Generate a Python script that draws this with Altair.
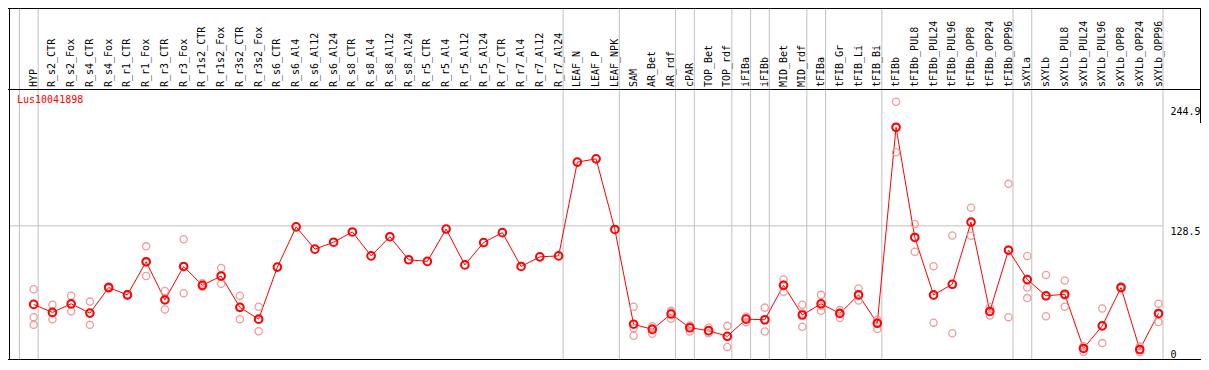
import altair as alt
import pandas as pd

categories = [
    "HYP", "R_s2_CTR", "R_s2_Fox", "R_s4_CTR", "R_s4_Fox", "R_r1_CTR", "R_r1_Fox",
    "R_r3_CTR", "R_r3_Fox", "R_r1s2_CTR", "R_r1s2_Fox", "R_r3s2_CTR", "R_r3s2_Fox",
    "R_s6_CTR", "R_s6_Al4", "R_s6_Al12", "R_s6_Al24", "R_s8_CTR", "R_s8_Al4",
    "R_s8_Al12", "R_s8_Al24", "R_r5_CTR", "R_r5_Al4", "R_r5_Al12", "R_r5_Al24",
    "R_r7_CTR", "R_r7_Al4", "R_r7_Al12", "R_r7_Al24", "LEAF_N", "LEAF_P", "LEAF_NPK",
    "SAM", "AR_Bet", "AR_rdf", "cPAR", "TOP_Bet", "TOP_rdf", "iFIBa", "iFIBb",
    "MID_Bet", "MID_rdf", "tFIBa", "tFIB_Gr", "tFIB_Li", "tFIB_Bi", "tFIBb",
    "tFIBb_PUL8", "tFIBb_PUL24", "tFIBb_PUL96", "tFIBb_OPP8", "tFIBb_OPP24",
    "tFIBb_OPP96", "sXYLa", "sXYLb", "sXYLb_PUL8", "sXYLb_PUL24", "sXYLb_PUL96",
    "sXYLb_OPP8", "sXYLb_OPP24", "sXYLb_OPP96",
]

means = [
    52.7, 45.0, 53.3, 44.3, 69.0, 61.9, 93.9, 57.0, 89.3, 71.1, 80.1, 49.9, 38.5,
    88.7, 127.5, 106.0, 112.7, 122.6, 99.5, 118.0, 95.8, 94.2, 125.4, 90.8, 112.4,
    121.9, 89.3, 98.6, 99.5, 190.0, 193.1, 125.0,
    33.6, 28.6, 43.4, 30.2, 27.4, 21.9, 38.5, 37.9, 71.1, 42.5, 53.3, 44.0, 61.9,
    34.5, 223.6, 117.3, 61.9, 72.1, 132.1, 45.9, 105.0, 76.7, 61.0, 62.5, 10.2,
    32.0, 69.0, 9.2, 44.0,
]

N = None
rep_a = [67.4, 52.4, 61.0, 55.4, 70.0, 62.5, 108.7, 65.6, 115.5, 73.0, 87.8, 61.0, 50.5,
         N, N, N, N, N, N, N, N, N, N, N, N, N, N, N, N, N, N, N,
         50.5, 31.7, 46.5, 32.3, 30.5, 32.0, 40.9, 49.6, 76.7, 52.4, 61.9, 47.4, 68.1,
         37.9, 248.2, 130.3, 89.6, 119.2, 146.0, 50.2, 169.0, 99.5, 81.0, 75.8, 12.6,
         48.7, 70.0, 12.0, 53.3]
rep_b = [40.4, 38.5, 46.2, 33.0, 68.0, 61.0, 80.1, 47.8, 63.5, 70.0, 72.7, 38.5, 26.8,
         N, N, N, N, N, N, N, N, N, N, N, N, N, N, N, N, N, N, N,
         29.6, 24.3, 38.8, 26.5, 24.9, 11.7, 35.4, 26.5, 64.9, 31.1, 46.5, 39.7, 56.4,
         28.9, 199.5, 103.5, 35.1, 24.9, 118.9, 41.9, 40.4, 69.0, 41.3, 50.5, 7.1,
         15.4, 68.0, 6.5, 35.8]
rep_c = [33.0, 44.1, 52.7, 44.5, 69.0, 62.2, 92.9, 57.6, 88.9, 70.3, 79.8, 50.2, 38.2,
         N, N, N, N, N, N, N, N, N, N, N, N, N, N, N, N, N, N, N,
         22.5, 29.8, 45.0, 31.8, 26.8, 22.0, 39.2, 37.6, 71.7, 44.0, 51.5, 45.0, 61.2,
         35.8, 223.1, 118.0, 61.0, 72.2, 131.4, 45.6, 105.6, 58.8, 60.7, 61.2, 10.9,
         31.9, 69.0, 9.1, 43.0]

# index of the last category before each vertical separator
group_ends = [-1, 0, 28, 31, 34, 35, 37, 38, 39, 41, 42, 45, 52, 53, 60]
y_tick_values = [128.5, 244.9]
y_tick_labels = ["128.5", "244.9"]
y_zero_value = [0]
y_zero_label = ["0"]
hline_values = [128.5]
title_text = "Lus10041898"

# ---- layout (pixels) ----
PAD_L, PAD_TOP = 1, 81
PLOT_W, PLOT_H = 1154, 271
TOTAL_W, TOTAL_H = 1193, 354
PAD_R = TOTAL_W - PAD_L - PLOT_W
PAD_B = TOTAL_H - PAD_TOP - PLOT_H
FONT = "DejaVu Sans Mono"

xs = alt.Scale(domain=[-1.316, 60.24], nice=False, zero=False)
ys = alt.Scale(domain=[-0.92, 260.5], nice=False, zero=False)

idx = list(range(len(categories)))
df = pd.DataFrame({"i": idx, "cat": categories, "mean": means})

rows = []
for k in idx:
    for r in (rep_a[k], rep_b[k], rep_c[k]):
        if r is not None:
            rows.append({"i": k, "v": r})
reps_df = pd.DataFrame(rows)

grid_df = pd.DataFrame({"gx": [g + 0.24 for g in group_ends]})
hline_df = pd.DataFrame({"v": hline_values})
ticks_df = pd.DataFrame({"v": y_tick_values, "lab": y_tick_labels})
zero_df = pd.DataFrame({"v": y_zero_value, "lab": y_zero_label})
one = pd.DataFrame({"t": [title_text]})

X = lambda f: alt.X(f, scale=xs, axis=None)
Y = lambda f: alt.Y(f, scale=ys, axis=None)

vgrid = alt.Chart(grid_df).mark_rule(color="#c0c0c0", strokeWidth=1).encode(
    x=X("gx:Q"), y=alt.value(-PAD_TOP), y2=alt.value(PLOT_H))

hgrid = alt.Chart(hline_df).mark_rule(color="#c0c0c0", strokeWidth=1).encode(
    y=Y("v:Q"), x=alt.value(0), x2=alt.value(PLOT_W))

frame_h = alt.Chart(pd.DataFrame({"yy": [-PAD_TOP + 0.5, 0.5, PLOT_H - 0.5]})).mark_rule(
    color="black", strokeWidth=1).encode(
    y=alt.Y("yy:Q", scale=None), x=alt.value(-1), x2=alt.value(PLOT_W + PAD_R))

frame_left = alt.Chart(pd.DataFrame({"xx": [0.5]})).mark_rule(
    color="black", strokeWidth=1).encode(
    x=alt.X("xx:Q", scale=None), y=alt.value(-PAD_TOP), y2=alt.value(PLOT_H))

frame_right = alt.Chart(pd.DataFrame({"xx": [PLOT_W + PAD_R - 0.5]})).mark_rule(
    color="black", strokeWidth=1).encode(
    x=alt.X("xx:Q", scale=None), y=alt.value(-PAD_TOP), y2=alt.value(34))

line = alt.Chart(df).mark_line(color="#ff0000", strokeWidth=1).encode(
    x=X("i:Q"), y=Y("mean:Q"))

reps = alt.Chart(reps_df).mark_point(
    shape="circle", filled=False, color="#f09a9a", size=52, strokeWidth=1.3, opacity=1
).encode(x=X("i:Q"), y=Y("v:Q"))

pts = alt.Chart(df).mark_point(
    shape="circle", filled=False, color="#ff0000", size=58, strokeWidth=2, opacity=1
).encode(x=X("i:Q"), y=Y("mean:Q"))

labels = alt.Chart(df).mark_text(
    angle=270, align="left", baseline="middle", font=FONT, fontSize=10, color="black"
).encode(x=X("i:Q"), y=alt.value(-2), text="cat:N")

title = alt.Chart(one).mark_text(
    align="left", baseline="alphabetic", font=FONT, fontSize=10, color="#ff0000"
).encode(x=alt.value(8), y=alt.value(13.5), text="t:N")

ytext = alt.Chart(ticks_df).mark_text(
    align="left", baseline="alphabetic", dy=9.5, font=FONT, fontSize=10, color="black"
).encode(x=alt.value(PLOT_W + 7.5), y=Y("v:Q"), text="lab:N")

ytext0 = alt.Chart(zero_df).mark_text(
    align="left", baseline="alphabetic", dy=-1.2, font=FONT, fontSize=10, color="black"
).encode(x=alt.value(PLOT_W + 7.5), y=Y("v:Q"), text="lab:N")

chart = alt.layer(
    vgrid, hgrid, frame_h, frame_left, frame_right, line, reps, pts, labels, title,
    ytext, ytext0
).properties(
    width=PLOT_W, height=PLOT_H,
    padding={"left": PAD_L, "top": PAD_TOP, "right": PAD_R, "bottom": PAD_B},
    autosize=alt.AutoSizeParams(type="none"),
    background="white",
).configure_view(stroke=None)

chart.save("out.html", embed_options={"renderer": "svg", "actions": False})
